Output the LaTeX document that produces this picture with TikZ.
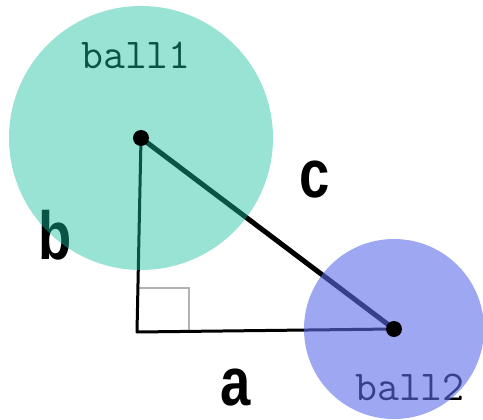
\documentclass[tikz,border=0pt]{standalone}
\usepackage{fontspec}
\setmainfont{Liberation Sans}
\usepackage{tikz}
\usetikzlibrary{positioning}

\definecolor{ballonecol}{RGB}{22,192,158}
\definecolor{balltwocol}{RGB}{92,108,233}

\begin{document}
\begin{tikzpicture}[
    x=1pt, y=-1pt,
    side/.style={line width=3pt, line cap=round},
    hyp/.style={line width=5pt, line cap=round},
    ballname/.style={font=\ttfamily\fontsize{42.5}{42.5}\selectfont, anchor=base, inner sep=0pt},
    sidename/.style={font=\bfseries\fontsize{68}{68}\selectfont, anchor=base, inner sep=0pt, xscale=0.8},
    dot/.style={circle, fill=black, minimum size=16pt, inner sep=0pt}
]
\useasboundingbox (0,0) rectangle (483,420);
\clip (0,0) rectangle (483,420);

\coordinate (p1) at (141,138);
\coordinate (p2) at (394,329);
\coordinate (corner) at (137,332);

% texts first, the balls lie over them
\node (name1) [ballname] at (136,69) {ball1};
\node (name2) [ballname] at (410,400) {ball2};
\node (lblc) [sidename] at (315,197) {c};
\node (lblb) [sidename] at (55,260) {b};
\node (lbla) [sidename] at (236,405) {a};

% right angle mark
\draw [gray!60, line width=2pt] (corner) ++(0,-44) -| ++(52,44);

% sides
\draw [side] (corner) -- (p1);
\draw [side] (corner) -- (p2);
\draw [hyp] (p1) -- (p2);

% balls
\fill [ballonecol, opacity=0.44] (p1) circle (132);
\fill [balltwocol, opacity=0.6] (p2) circle (90);

\node (dot1) [dot] at (p1) {};
\node (dot2) [dot] at (p2) {};

\end{tikzpicture}
\end{document}
